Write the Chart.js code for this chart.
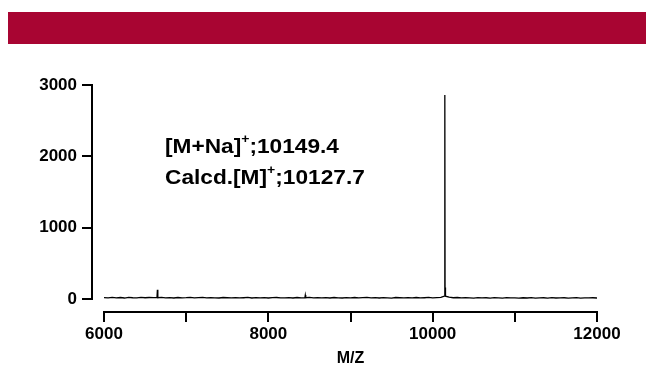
<!DOCTYPE html>
<html>
<head>
<meta charset="utf-8">
<script src="https://cdn.jsdelivr.net/npm/chart.js@4/dist/chart.umd.min.js"></script>
<style>
	html, body { margin: 0; padding: 0; background: #fff; }
	body { width: 646px; height: 368px; position: relative; overflow: hidden; }
	#banner { position: absolute; left: 8px; top: 12px; width: 638px; height: 32px; background: #a80532; }
	#wrap { position: absolute; left: 0; top: 0; width: 646px; height: 368px; }
</style>
</head>
<body>
<div id="banner"></div>
<div id="wrap"><canvas id="spectrum"></canvas></div>
<script>
// dati spettro (m/z e intensità)
var massToCharge = [
	6000, 6050, 6100, 6150, 6200, 6250, 6300, 6350, 6400, 6450,
	6500, 6550, 6600, 6645, 6650, 6655, 6700, 6750, 6800, 6850,
	6900, 6950, 7000, 7050, 7100, 7150, 7200, 7250, 7300, 7350,
	7400, 7450, 7500, 7550, 7600, 7650, 7700, 7750, 7800, 7850,
	7900, 7950, 8000, 8050, 8100, 8150, 8200, 8250, 8300, 8350,
	8400, 8445, 8450, 8455, 8500, 8550, 8600, 8650, 8700, 8750,
	8800, 8850, 8900, 8950, 9000, 9050, 9100, 9150, 9200, 9250,
	9300, 9350, 9400, 9450, 9500, 9550, 9600, 9650, 9700, 9750,
	9800, 9850, 9900, 9950, 10000, 10050, 10100, 10142, 10147, 10149,
	10151, 10156, 10200, 10250, 10300, 10350, 10400, 10450, 10500, 10550,
	10600, 10650, 10700, 10750, 10800, 10850, 10900, 10950, 11000, 11050,
	11100, 11150, 11200, 11250, 11300, 11350, 11400, 11450, 11500, 11550,
	11600, 11650, 11700, 11750, 11800, 11850, 11900, 11950, 12000
];
var intensity = [
	20, 15, 22, 17, 21, 14, 23, 18, 16, 22,
	18, 21, 19, 20, 130, 18, 22, 16, 20, 14,
	21, 17, 19, 23, 15, 19, 22, 15, 20, 17,
	14, 21, 18, 16, 20, 15, 18, 22, 14, 19,
	16, 20, 14, 19, 21, 15, 17, 20, 14, 21,
	17, 19, 55, 18, 22, 15, 20, 16, 19, 14,
	21, 17, 14, 20, 16, 21, 15, 19, 22, 16,
	19, 14, 20, 17, 13, 21, 18, 15, 20, 16,
	21, 15, 18, 22, 16, 20, 23, 40, 200, 2860,
	160, 40, 25, 18, 21, 15, 19, 16, 13, 20,
	15, 18, 13, 20, 16, 12, 19, 15, 17, 13,
	18, 14, 19, 12, 16, 18, 13, 19, 14, 16,
	18, 12, 17, 19, 13, 17, 15, 18, 14
];

var xTicks = [6000, 7000, 8000, 9000, 10000, 11000, 12000];
var xLabels = [6000, 8000, 10000, 12000];
var yTicks = [0, 1000, 2000, 3000];
var xTitle = "M/Z";
var noteLines = [
	["[M+Na]", "+", ";10149.4"],
	["Calcd.[M]", "+", ";10127.7"]
];

Chart.defaults.font.family = "'Liberation Sans', Arial, sans-serif";
Chart.defaults.color = "#000";

// asse y staccato e testo delle annotazioni
var extrasPlugin = {
	id: "extras",
	afterDraw: function(chart) {
		var ctx = chart.ctx;
		var y = chart.scales.y;
		var left = chart.chartArea.left;
		var axisX = left - 12;

		ctx.save();
		ctx.strokeStyle = "#000";
		ctx.lineWidth = 2;
		ctx.beginPath();
		ctx.moveTo(axisX, Math.round(y.getPixelForValue(yTicks[yTicks.length - 1])) - 1);
		ctx.lineTo(axisX, Math.round(y.getPixelForValue(0)) + 1);
		for (var i = 0; i < yTicks.length; i++) {
			var py = Math.round(y.getPixelForValue(yTicks[i]));
			ctx.moveTo(axisX - 10, py);
			ctx.lineTo(axisX, py);
		}
		ctx.stroke();
		ctx.restore();

		// testo (leggermente allargato come nell'originale)
		var big = "bold 21px 'Liberation Sans', Arial, sans-serif";
		var small = "bold 13px 'Liberation Sans', Arial, sans-serif";
		var ty = 153;
		for (var j = 0; j < noteLines.length; j++) {
			var parts = noteLines[j];
			ctx.save();
			ctx.translate(left + 61, ty);
			ctx.scale(1.08, 1);
			ctx.fillStyle = "#000";
			ctx.textBaseline = "alphabetic";
			ctx.textAlign = "left";
			var cx = 0;
			ctx.font = big;
			ctx.fillText(parts[0], cx, 0);
			cx += ctx.measureText(parts[0]).width;
			ctx.font = small;
			ctx.fillText(parts[1], cx, -10);
			cx += ctx.measureText(parts[1]).width;
			ctx.font = big;
			ctx.fillText(parts[2], cx, 0);
			ctx.restore();
			ty += 31;
		}
	}
};

var points = massToCharge.map(function(m, i) {
	return { x: m, y: intensity[i] };
});

var ctx = document.getElementById("spectrum").getContext("2d");
var chart = new Chart(ctx, {
	type: "line",
	data: {
		datasets: [{
			data: points,
			borderColor: "#000",
			borderWidth: 1.3,
			pointRadius: 0,
			tension: 0,
			fill: false
		}]
	},
	options: {
		responsive: true,
		maintainAspectRatio: false,
		animation: false,
		events: [],
		layout: { padding: { left: 0, top: 85, right: 49, bottom: 0 } },
		plugins: {
			legend: { display: false },
			tooltip: { enabled: false }
		},
		scales: {
			x: {
				type: "linear",
				min: 6000,
				max: 12000,
				afterBuildTicks: function(scale) {
					scale.ticks = xTicks.map(function(v) { return { value: v }; });
				},
				afterFit: function(scale) { scale.height = 56; },
				ticks: {
					autoSkip: false,
					maxRotation: 0,
					padding: 2,
					font: { size: 17, weight: "bold" },
					callback: function(v) { return xLabels.indexOf(v) >= 0 ? String(v) : ""; }
				},
				grid: {
					drawOnChartArea: false,
					drawTicks: true,
					tickLength: 10,
					color: "#000",
					lineWidth: 2
				},
				border: { display: true, color: "#000", width: 2 },
				title: {
					display: true,
					text: xTitle,
					font: { size: 16, weight: "bold" },
					padding: { top: 0, bottom: 0 }
				}
			},
			y: {
				type: "linear",
				min: -182,
				max: 3000,
				afterBuildTicks: function(scale) {
					scale.ticks = yTicks.map(function(v) { return { value: v }; });
				},
				afterFit: function(scale) { scale.width = 104; },
				ticks: {
					padding: 27,
					font: { size: 17, weight: "bold" },
					callback: function(v) { return String(v); }
				},
				grid: { display: false, drawTicks: false },
				border: { display: false }
			}
		}
	},
	plugins: [extrasPlugin]
});
</script>
</body>
</html>
